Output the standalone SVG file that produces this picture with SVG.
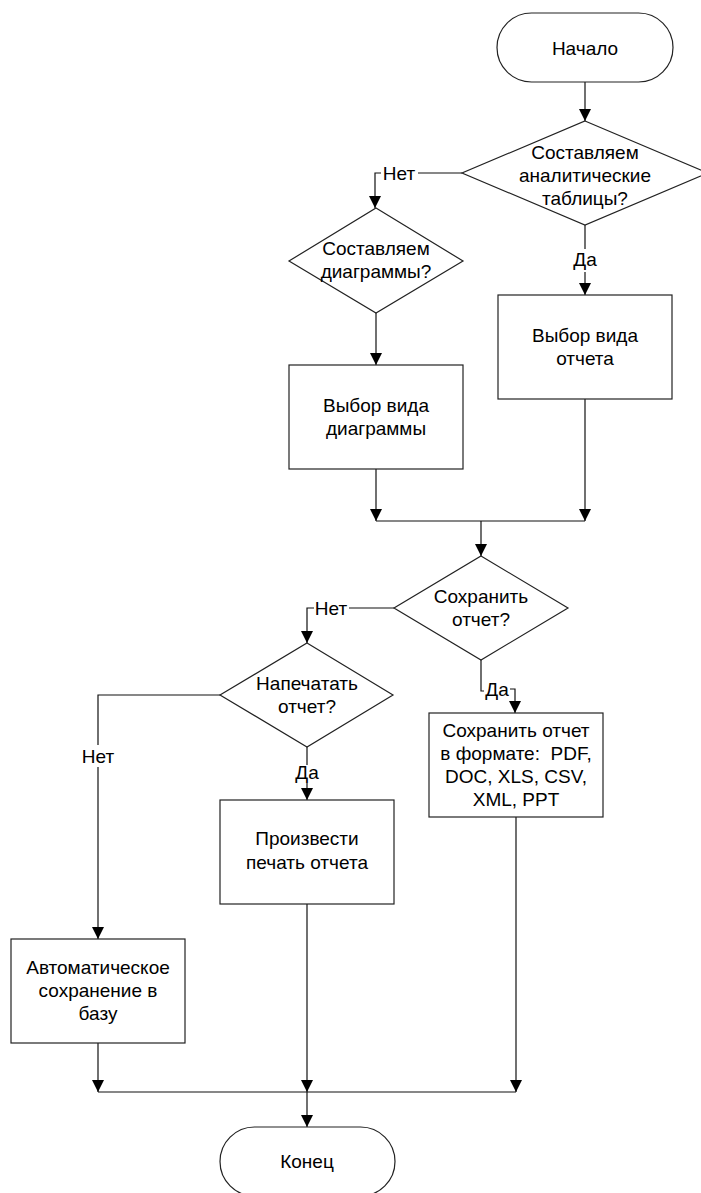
<svg xmlns="http://www.w3.org/2000/svg" width="701" height="1193" viewBox="0 0 701 1193">
<style>
.shape{fill:#fff;stroke:#222;stroke-width:1.2}
.con{fill:none;stroke:#111;stroke-width:1.2}
text{font-family:"Liberation Sans",Arial,sans-serif;font-size:19px;fill:#000;text-anchor:middle;white-space:pre}
</style>
<defs>
<marker id="arr" markerUnits="userSpaceOnUse" markerWidth="13" markerHeight="13" refX="12" refY="6" orient="auto">
<path d="M0,0 L12,6 L0,12 z" fill="#000"/>
</marker>
</defs>
<rect width="701" height="1193" fill="#fff"/>
<g id="connectors">
<path class="con" d="M585,82 V121" marker-end="url(#arr)"/>
<path class="con" d="M462,173 H418"/>
<path class="con" d="M381,173 H375 V208" marker-end="url(#arr)"/>
<path class="con" d="M585,225 V249"/>
<path class="con" d="M585,272 V295" marker-end="url(#arr)"/>
<path class="con" d="M376,313 V365" marker-end="url(#arr)"/>
<path class="con" d="M376,469 V521" marker-end="url(#arr)"/>
<path class="con" d="M585,399 V521" marker-end="url(#arr)"/>
<path class="con" d="M376,521 H585"/>
<path class="con" d="M481,521 V556" marker-end="url(#arr)"/>
<path class="con" d="M394,608 H349"/>
<path class="con" d="M314,608 H307 V643" marker-end="url(#arr)"/>
<path class="con" d="M481,660 V691 H484"/>
<path class="con" d="M510,689 H515 V713" marker-end="url(#arr)"/>
<path class="con" d="M220,695 H98 V745"/>
<path class="con" d="M98,767 V939" marker-end="url(#arr)"/>
<path class="con" d="M307,747 V765"/>
<path class="con" d="M307,783 V800" marker-end="url(#arr)"/>
<path class="con" d="M98,1043 V1092" marker-end="url(#arr)"/>
<path class="con" d="M307,904 V1092" marker-end="url(#arr)"/>
<path class="con" d="M516,817 V1092" marker-end="url(#arr)"/>
<path class="con" d="M98,1092 H516"/>
<path class="con" d="M307,1092 V1127" marker-end="url(#arr)"/>
<text x="399" y="180">Нет</text>
<text x="585" y="266">Да</text>
<text x="331" y="615">Нет</text>
<text x="497" y="696">Да</text>
<text x="98" y="763">Нет</text>
<text x="307" y="779">Да</text>
</g>
<g id="start">
<rect class="shape" x="497" y="13" width="176" height="69" rx="34.5"/>
<text x="585" y="55">Начало</text>
</g>
<g id="dec-tables">
<polygon class="shape" points="585,121 708,173 585,225 462,173"/>
<text x="585" y="159">Составляем</text>
<text x="585" y="182">аналитические</text>
<text x="585" y="205">таблицы?</text>
</g>
<g id="dec-charts">
<polygon class="shape" points="376,208 463,261 376,313 289,261"/>
<text x="376" y="255">Составляем</text>
<text x="376" y="278">диаграммы?</text>
</g>
<g id="chart-type">
<rect class="shape" x="289" y="365" width="174" height="104"/>
<text x="376" y="412">Выбор вида</text>
<text x="376" y="435">диаграммы</text>
</g>
<g id="report-type">
<rect class="shape" x="498" y="295" width="174" height="104"/>
<text x="585" y="342">Выбор вида</text>
<text x="585" y="365">отчета</text>
</g>
<g id="dec-save">
<polygon class="shape" points="481,556 568,608 481,660 394,608"/>
<text x="481" y="603">Сохранить</text>
<text x="481" y="626">отчет?</text>
</g>
<g id="dec-print">
<polygon class="shape" points="307,643 393,695 307,747 220,695"/>
<text x="307" y="690">Напечатать</text>
<text x="307" y="713">отчет?</text>
</g>
<g id="save-format">
<rect class="shape" x="429" y="713" width="174" height="104"/>
<text x="516" y="737">Сохранить отчет</text>
<text x="516" y="760">в формате:  PDF,</text>
<text x="516" y="783">DOC, XLS, CSV,</text>
<text x="516" y="806">XML, PPT</text>
</g>
<g id="print">
<rect class="shape" x="220" y="800" width="174" height="104"/>
<text x="307" y="845">Произвести</text>
<text x="307" y="869">печать отчета</text>
</g>
<g id="autosave">
<rect class="shape" x="11" y="939" width="174" height="104"/>
<text x="98" y="974">Автоматическое</text>
<text x="98" y="997">сохранение в</text>
<text x="98" y="1020">базу</text>
</g>
<g id="end">
<rect class="shape" x="220" y="1127" width="175" height="69" rx="34.5"/>
<text x="307" y="1168">Конец</text>
</g>
</svg>
